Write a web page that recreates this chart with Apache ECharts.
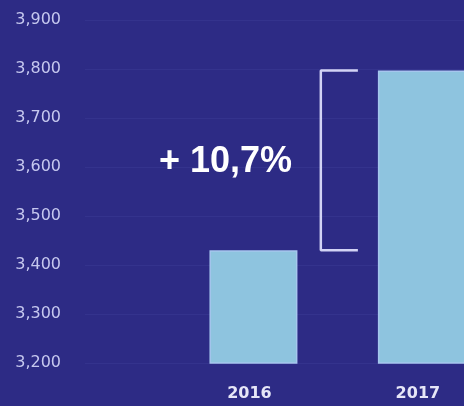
<!DOCTYPE html>
<html>
<head>
<meta charset="utf-8">
<style>
html,body{margin:0;padding:0;background:#2d2b85;}
#c{width:464px;height:406px;}
</style>
<script src="https://cdn.jsdelivr.net/npm/echarts@6/dist/echarts.min.js"></script>
</head>
<body>
<div id="c"></div>
<script>
var years = ['2016', '2017'];
var values = [3430, 3797];
var yTicks = [3200, 3300, 3400, 3500, 3600, 3700, 3800, 3900];
var changeLabel = '+ 10,7%';

var chart = echarts.init(document.getElementById('c'), null, {renderer: 'canvas'});

var barData = values.map(function (v, i) { return [i, v]; });
// bracket between the two bar tops, placed between the bars
var bx0 = 0.40, bx1 = 0.62;
var bracket = [[bx1, values[0]], [bx0, values[0]], [bx0, values[1]], [bx1, values[1]]];

var option = {
  backgroundColor: '#2d2b85',
  animation: false,
  grid: {left: 85, right: 0, top: 20, bottom: 43, containLabel: false},
  xAxis: {
    type: 'value',
    min: -1, max: 1.25, interval: 1,
    axisLine: {show: false}, axisTick: {show: false}, splitLine: {show: false},
    axisLabel: {
      margin: 23,
      color: '#e6e6f7',
      fontFamily: 'DejaVu Sans',
      fontWeight: 'bold',
      fontSize: 16,
      padding: [0, 8, 0, 0],
      showMaxLabel: false,
      formatter: function (v) {
        return (Number.isInteger(v) && v >= 0 && v < years.length) ? years[v] : '';
      }
    }
  },
  yAxis: {
    type: 'value',
    min: yTicks[0], max: yTicks[yTicks.length - 1], interval: 100,
    axisLine: {show: false}, axisTick: {show: false},
    splitLine: {show: true, lineStyle: {color: '#34338d', width: 1}},
    axisLabel: {
      margin: 24,
      color: '#c6c8ef',
      fontFamily: 'DejaVu Sans',
      fontSize: 16,
      formatter: function (v) { return v.toLocaleString('en-US'); }
    }
  },
  series: [
    {
      type: 'bar',
      data: barData,
      barWidth: 88,
      itemStyle: {color: '#8ec4df', borderColor: '#a6c6ee', borderWidth: 1.5}
    },
    {
      type: 'line',
      data: bracket,
      symbol: 'none',
      lineStyle: {color: '#d2d3f5', width: 2.5},
      z: 5
    }
  ],
  graphic: [{
    type: 'text',
    left: 159, top: 144,
    z: 100,
    style: {
      text: changeLabel,
      fill: '#ffffff',
      font: 'bold 36px "Liberation Sans", Arial, sans-serif'
    }
  }]
};
chart.setOption(option);
</script>
</body>
</html>
